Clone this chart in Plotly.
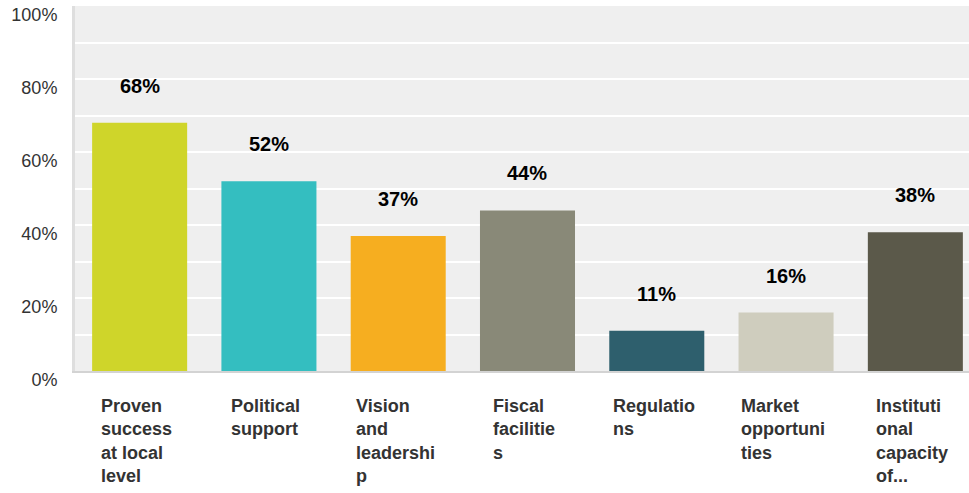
import plotly.graph_objects as go

categories = [
    "Proven success at local level",
    "Political support",
    "Vision and leadership",
    "Fiscal facilities",
    "Regulations",
    "Market opportunities",
    "Institutional capacity of...",
]
# wrapped category labels, one list of lines per bar
label_lines = [
    ["Proven", "success", "at local", "level"],
    ["Political", "support"],
    ["Vision", "and", "leadershi", "p"],
    ["Fiscal", "facilitie", "s"],
    ["Regulatio", "ns"],
    ["Market", "opportuni", "ties"],
    ["Instituti", "onal", "capacity", "of..."],
]
values = [68, 52, 37, 44, 11, 16, 38]
colors = ["#cfd52a", "#34bec0", "#f6ae20", "#898978", "#2e5f6d", "#cfcdbe", "#5b594a"]

FONT = "Liberation Sans, Arial, sans-serif"

fig = go.Figure(
    go.Bar(
        x=list(range(len(categories))),
        y=values,
        marker=dict(color=colors, line=dict(width=0)),
        hovertext=categories,
        width=0.735,
    )
)

annotations = []
for i, v in enumerate(values):
    annotations.append(dict(
        x=i, y=v, xref="x", yref="y", text=f"<b>{v}%</b>",
        showarrow=False, yshift=37,
        font=dict(family=FONT, size=20, color="#000000"),
    ))
for i, lines in enumerate(label_lines):
    # block centred under the bar, lines left-aligned inside it
    annotations.append(dict(
        x=i, y=0, xref="x", yref="paper",
        text="<br>".join(f"<b>{line}</b>" for line in lines),
        showarrow=False, xanchor="center", yanchor="top", align="left",
        xshift=-3, yshift=-23,
        font=dict(family=FONT, size=18, color="#333333"),
    ))

fig.update_layout(
    width=969, height=493,
    margin=dict(l=75, r=0, t=6, b=122),
    paper_bgcolor="#ffffff",
    plot_bgcolor="#efefef",
    showlegend=False,
    annotations=annotations,
    xaxis=dict(
        # last category runs slightly past the right edge
        range=[-0.5, len(categories) - 0.585],
        showticklabels=False, showgrid=False, zeroline=False,
        showline=True, linecolor="#d3d3d3", linewidth=2,
        fixedrange=True,
    ),
    yaxis=dict(
        range=[0, 100], dtick=20, ticksuffix="%",
        showgrid=True, gridcolor="#ffffff", gridwidth=2,
        minor=dict(dtick=10, showgrid=True, gridcolor="#ffffff", gridwidth=2),
        zeroline=False,
        showline=True, linecolor="#dedede", linewidth=3,
        ticks="", ticklabelstandoff=11, ticklabelshift=9,
        tickfont=dict(family=FONT, size=18, color="#333333"),
        fixedrange=True,
    ),
)

fig.write_html("out.html")
